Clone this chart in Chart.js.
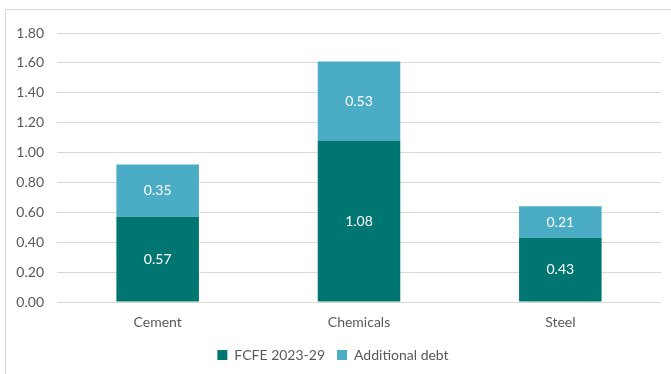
<!DOCTYPE html>
<html lang="en">
<head>
    <meta charset="UTF-8">
    <title>FCFE and Additional Debt by Sector</title>
    <script src="https://cdnjs.cloudflare.com/ajax/libs/chart.js/4.4.1/chart.umd.min.js"></script>
    <style>
        body {
            margin: 0;
            background: #fff;
            overflow: hidden;
        }

        .frame {
            position: absolute;
            left: 5px;
            top: 9px;
            width: 700px;
            height: 400px;
            border: 1px solid #d9d9d9;
        }

        .canvas-container {
            position: absolute;
            left: 0;
            top: 0;
            width: 671px;
            height: 374px;
        }
    </style>
</head>
<body>
    <div class="frame"></div>
    <div class="canvas-container">
        <canvas id="sectorChart"></canvas>
    </div>

    <script>
        const sectors = ['Cement', 'Chemicals', 'Steel'];
        const fcfe = [0.57, 1.08, 0.43];
        const additionalDebt = [0.35, 0.53, 0.21];
        const yTicks = [0, 0.2, 0.4, 0.6, 0.8, 1.0, 1.2, 1.4, 1.6, 1.8];

        const textGray = '#595959';
        const fontFamily = 'Lato, "Open Sans", sans-serif';

        // white value labels in the middle of each bar segment
        const barLabels = {
            id: 'barLabels',
            afterDatasetsDraw(chart) {
                const ctx = chart.ctx;
                ctx.save();
                ctx.fillStyle = '#ffffff';
                ctx.font = '14px ' + fontFamily;
                ctx.textAlign = 'center';
                ctx.textBaseline = 'middle';
                chart.data.datasets.forEach((ds, i) => {
                    chart.getDatasetMeta(i).data.forEach((bar, j) => {
                        const mid = (bar.y + bar.base) / 2;
                        ctx.fillText(ds.data[j].toFixed(2), bar.x, mid);
                    });
                });
                ctx.restore();
            }
        };

        const ctx = document.getElementById('sectorChart').getContext('2d');
        new Chart(ctx, {
            type: 'bar',
            data: {
                labels: sectors,
                datasets: [
                    {
                        label: 'FCFE 2023-29',
                        data: fcfe,
                        backgroundColor: '#007672',
                        categoryPercentage: 1.0,
                        barPercentage: 0.41
                    },
                    {
                        label: 'Additional debt',
                        data: additionalDebt,
                        backgroundColor: '#4BACC6',
                        categoryPercentage: 1.0,
                        barPercentage: 0.41
                    }
                ]
            },
            options: {
                responsive: true,
                maintainAspectRatio: false,
                animation: false,
                layout: {
                    padding: { top: 33, right: 10, left: 5, bottom: 2 }
                },
                plugins: {
                    legend: {
                        position: 'bottom',
                        labels: {
                            color: textGray,
                            font: { family: fontFamily, size: 14 },
                            boxWidth: 10,
                            boxHeight: 10,
                            padding: 12
                        }
                    },
                    tooltip: { enabled: false }
                },
                scales: {
                    x: {
                        stacked: true,
                        grid: { display: false },
                        border: { display: false },
                        ticks: {
                            color: textGray,
                            font: { family: fontFamily, size: 14 },
                            padding: 4
                        },
                        afterFit(scale) {
                            scale.height = 34;
                        }
                    },
                    y: {
                        stacked: true,
                        min: 0,
                        max: 1.8,
                        border: { display: false },
                        grid: {
                            color: '#d9d9d9',
                            drawTicks: false
                        },
                        afterBuildTicks(scale) {
                            scale.ticks = yTicks.map(v => ({ value: v }));
                        },
                        ticks: {
                            color: textGray,
                            font: { family: fontFamily, size: 14 },
                            padding: 13,
                            callback: v => v.toFixed(2)
                        },
                        afterFit(scale) {
                            scale.width = 52;
                        }
                    }
                }
            },
            plugins: [barLabels]
        });
    </script>
</body>
</html>
